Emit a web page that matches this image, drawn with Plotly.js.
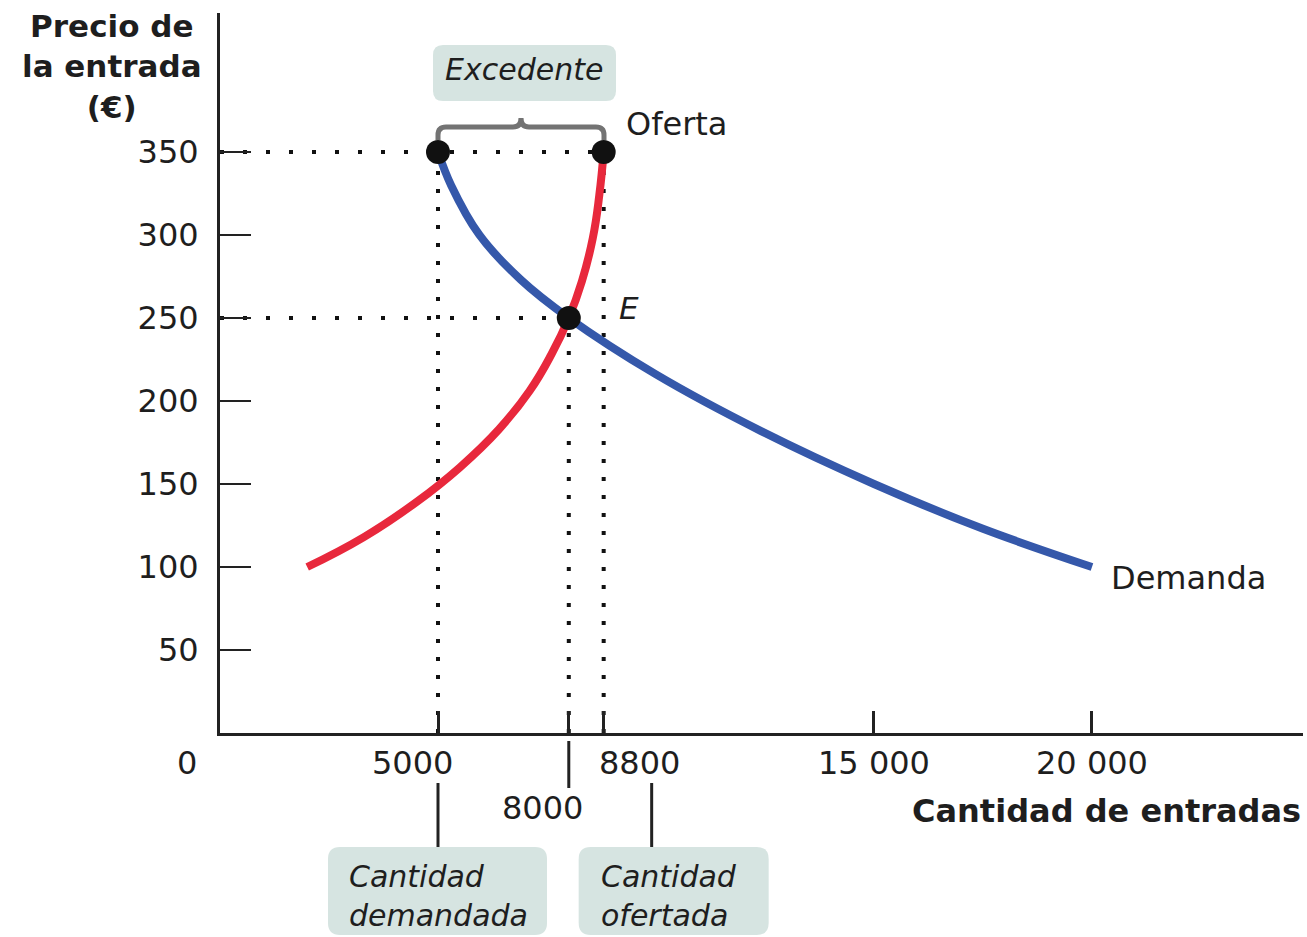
<!DOCTYPE html>
<html>
<head>
<meta charset="utf-8">
<script src="https://cdn.plot.ly/plotly-3.0.1.min.js"></script>
<style>html,body{margin:0;padding:0;background:#fff;}#chart{width:1307px;height:937px;}</style>
</head>
<body>
<div id="chart"></div>
<script>
// ---- data ----
const demandQ = [5000, 5300, 5950, 6900, 8000, 10000, 12400, 15000, 17500, 20000];
const demandP = [350, 330, 300, 273, 250, 216, 182, 150, 123, 100];
const supplyQ = [2000, 3300, 4500, 5500, 6400, 7100, 7600, 8000, 8300, 8550, 8700, 8800];
const supplyP = [100, 118, 139, 160, 183, 206, 228, 250, 272, 298, 324, 350];
const highPrice = 350;
const eqPrice = 250;
const qDemanded = 5000;
const qEquilibrium = 8000;
const qSupplied = 8800;
const yTickVals = [50, 100, 150, 200, 250, 300, 350];
const yTickText = ['50', '100', '150', '200', '250', '300', '350'];
const xTickVals = [5000, 8000, 8800, 15000, 20000];
const xTickText = ['5000', '8000', '8800', '15 000', '20 000'];

const FONT = 'DejaVu Sans, sans-serif';
const TXT = '#1e1e1e';
const BOX = '#d6e4e1';

function rr(x0, y0, x1, y1, r) {
  return `M ${x0 + r} ${y1} L ${x1 - r} ${y1} Q ${x1} ${y1} ${x1} ${y1 - r} L ${x1} ${y0 + r} Q ${x1} ${y0} ${x1 - r} ${y0} L ${x0 + r} ${y0} Q ${x0} ${y0} ${x0} ${y0 + r} L ${x0} ${y1 - r} Q ${x0} ${y1} ${x0 + r} ${y1} Z`;
}

const dotH = {color: '#111', width: 4, dash: '4px,19px'};
const dotV = {color: '#111', width: 4, dash: '4px,14px'};

const traces = [
  {x: [0, qSupplied], y: [highPrice, highPrice], mode: 'lines', line: dotH},
  {x: [0, qEquilibrium], y: [eqPrice, eqPrice], mode: 'lines', line: dotH},
  {x: [qDemanded, qDemanded], y: [0, highPrice], mode: 'lines', line: dotV},
  {x: [qEquilibrium, qEquilibrium], y: [0, eqPrice], mode: 'lines', line: dotV},
  {x: [qSupplied, qSupplied], y: [0, highPrice], mode: 'lines', line: dotV},
  {x: supplyQ, y: supplyP, mode: 'lines', line: {color: '#e8283c', width: 8, shape: 'spline', smoothing: 1.3}},
  {x: demandQ, y: demandP, mode: 'lines', line: {color: '#3558aa', width: 8, shape: 'spline'}},
  {x: [qDemanded, qSupplied, qEquilibrium], y: [highPrice, highPrice, eqPrice], mode: 'markers',
   marker: {color: '#111', size: 24}}
];

const xShift = [-26, -26, 36, 0, 0];
const yShiftX = [-30, -75, -30, -30, -30];
const annotations = xTickVals.map((v, i) => ({
  x: v, xref: 'x', y: 0, yref: 'paper', text: xTickText[i], showarrow: false,
  xanchor: 'center', yanchor: 'middle', xshift: xShift[i], yshift: yShiftX[i],
  font: {family: FONT, size: 32, color: TXT}
}));
annotations.push(
  {x: 0, xref: 'paper', y: 0, yref: 'paper', text: '0', showarrow: false, xanchor: 'center', yanchor: 'middle',
   xshift: -33, yshift: -30, font: {family: FONT, size: 32, color: TXT}},
  {x: 0, xref: 'paper', y: 1, yref: 'paper', text: '<b>Precio de</b><br><b>la entrada</b><br><b>(€)</b>', showarrow: false,
   xanchor: 'center', yanchor: 'top', align: 'center', xshift: -108, yshift: 7,
   font: {family: FONT, size: 31, color: TXT}},
  {x: 1, xref: 'paper', y: 0, yref: 'paper', text: '<b>Cantidad de entradas</b>', showarrow: false,
   xanchor: 'right', yanchor: 'middle', xshift: 0, yshift: -78,
   font: {family: FONT, size: 32, color: TXT}},
  {x: qSupplied, xref: 'x', y: highPrice, yref: 'y', text: 'Oferta', showarrow: false,
   xanchor: 'left', yanchor: 'middle', xshift: 20, yshift: 28, font: {family: FONT, size: 32, color: TXT}},
  {x: demandQ[demandQ.length - 1], xref: 'x', y: demandP[demandP.length - 1], yref: 'y', text: 'Demanda', showarrow: false,
   xanchor: 'left', yanchor: 'middle', xshift: 17, yshift: -11, font: {family: FONT, size: 32, color: TXT}},
  {x: qEquilibrium, xref: 'x', y: eqPrice, yref: 'y', text: '<i>E</i>', showarrow: false,
   xanchor: 'left', yanchor: 'middle', xshift: 48, yshift: 10, font: {family: FONT, size: 31, color: TXT}},
  {x: (qDemanded + qSupplied) / 2, xref: 'x', y: highPrice, yref: 'y', text: '<i>Excedente</i>', showarrow: false,
   xanchor: 'center', yanchor: 'middle', xshift: 3, yshift: 82, font: {family: FONT, size: 30, color: TXT}},
  {x: qDemanded, xref: 'x', y: 0, yref: 'paper', text: '<i>Cantidad</i><br><i>demandada</i>', showarrow: false,
   xanchor: 'left', yanchor: 'middle', align: 'left', xshift: -91, yshift: -163, font: {family: FONT, size: 30, color: TXT}},
  {x: qSupplied, xref: 'x', y: 0, yref: 'paper', text: '<i>Cantidad</i><br><i>ofertada</i>', showarrow: false,
   xanchor: 'left', yanchor: 'middle', align: 'left', xshift: -5, yshift: -163, font: {family: FONT, size: 30, color: TXT}}
);

const shapes = [
  // Excedente box
  {type: 'path', xref: 'x', yref: 'y', xsizemode: 'pixel', ysizemode: 'pixel', xanchor: qDemanded, yanchor: highPrice,
   path: rr(-5, 51, 178, 107, 10), fillcolor: BOX, line: {width: 0}, layer: 'below'},
  // brace
  {type: 'path', xref: 'x', yref: 'y', xsizemode: 'pixel', ysizemode: 'pixel', xanchor: qDemanded, yanchor: highPrice,
   path: 'M 0 12 L 0 17 Q 0 25 8 25 L 75 25 Q 83 25 83 34 Q 83 25 91 25 L 158 25 Q 166 25 166 17 L 166 12',
   line: {color: '#737373', width: 5}},
  // bottom boxes
  {type: 'path', xref: 'x', yref: 'paper', xsizemode: 'pixel', ysizemode: 'pixel', xanchor: qDemanded, yanchor: 0,
   path: rr(-110, -202, 109, -114, 12), fillcolor: BOX, line: {width: 0}},
  {type: 'path', xref: 'x', yref: 'paper', xsizemode: 'pixel', ysizemode: 'pixel', xanchor: qSupplied, yanchor: 0,
   path: rr(-25, -202, 165, -114, 12), fillcolor: BOX, line: {width: 0}},
  // leader lines
  {type: 'line', xref: 'x', yref: 'paper', xsizemode: 'pixel', ysizemode: 'pixel', xanchor: qDemanded, yanchor: 0,
   x0: 0, x1: 0, y0: -50, y1: -114, line: {color: '#222', width: 3}},
  {type: 'line', xref: 'x', yref: 'paper', xsizemode: 'pixel', ysizemode: 'pixel', xanchor: qSupplied, yanchor: 0,
   x0: 48, x1: 48, y0: -50, y1: -114, line: {color: '#222', width: 3}},
  {type: 'line', xref: 'x', yref: 'paper', xsizemode: 'pixel', ysizemode: 'pixel', xanchor: qEquilibrium, yanchor: 0,
   x0: 0, x1: 0, y0: -8, y1: -55, line: {color: '#222', width: 3}}
];

const layout = {
  width: 1307, height: 937,
  margin: {l: 220, r: 4, t: 13, b: 204},
  paper_bgcolor: '#fff', plot_bgcolor: '#fff',
  showlegend: false, hovermode: false,
  xaxis: {range: [0, 24840], showgrid: false, zeroline: false, showline: true, linecolor: '#222', linewidth: 3,
          tickmode: 'array', tickvals: xTickVals, ticks: 'inside', ticklen: 22, tickwidth: 3, tickcolor: '#222',
          showticklabels: false, fixedrange: true},
  yaxis: {range: [0, 433.7], showgrid: false, zeroline: false, showline: true, linecolor: '#222', linewidth: 3,
          tickmode: 'array', tickvals: yTickVals, ticktext: yTickText, ticks: 'inside', ticklen: 31, tickwidth: 2.5,
          tickcolor: '#222', ticklabelstandoff: 12, tickfont: {family: FONT, size: 32, color: TXT}, fixedrange: true},
  annotations: annotations,
  shapes: shapes
};

Plotly.newPlot('chart', traces, layout, {displayModeBar: false, staticPlot: true});
</script>
</body>
</html>
